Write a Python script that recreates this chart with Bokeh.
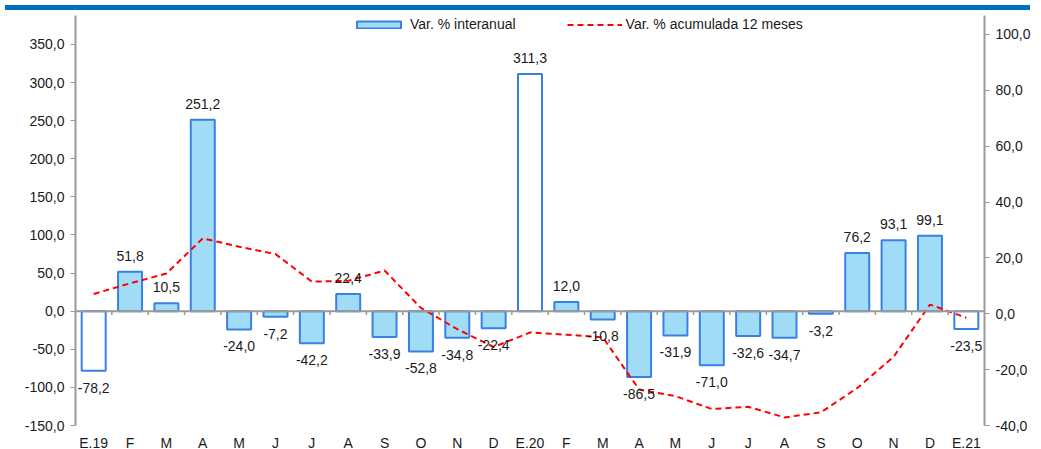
import numpy as np
from bokeh.plotting import figure
from bokeh.models import (Range1d, LinearAxis, FixedTicker, ColumnDataSource, Span,
                          Legend, LegendItem, Div)
from bokeh.layouts import column
from bokeh.embed import file_html
from bokeh.resources import INLINE
from bokeh.core.properties import value

# ---- data ----
months = ["E.19", "F", "M", "A", "M", "J", "J", "A", "S", "O", "N", "D",
          "E.20", "F", "M", "A", "M", "J", "J", "A", "S", "O", "N", "D", "E.21"]
interanual = [-78.2, 51.8, 10.5, 251.2, -24.0, -7.2, -42.2, 22.4, -33.9, -52.8, -34.8, -22.4,
              311.3, 12.0, -10.8, -86.5, -31.9, -71.0, -32.6, -34.7, -3.2, 76.2, 93.1, 99.1, -23.5]
acumulada = [7.1, 10.9, 14.4, 27.0, 24.0, 21.4, 11.5, 11.8, 15.5, 2.1, -5.5, -11.9,
             -6.7, -7.5, -8.4, -27.1, -29.5, -34.1, -33.3, -37.1, -35.3, -26.6, -15.4, 3.3, -1.4]
left_ticks = [-150, -100, -50, 0, 50, 100, 150, 200, 250, 300, 350]
right_ticks = [-40, -20, 0, 20, 40, 60, 80, 100]

FONT = "Liberation Sans"
FS = "14px"
GREY = "#9a9a9a"
BAR_FILL = "#a0dcf5"
BAR_LINE = "#3a80e4"

def fmt(v):
    return f"{v:.1f}".replace(".", ",")

idx = list(range(len(months)))
fills = ["white" if m.startswith("E.") else BAR_FILL for m in months]
src = ColumnDataSource(dict(x=idx, y=interanual, fill=fills, acc=acumulada,
                            lab=[fmt(v) for v in interanual]))
pos = [i for i, v in enumerate(interanual) if v >= 0]
neg = [i for i, v in enumerate(interanual) if v < 0]
src_pos = ColumnDataSource(dict(x=pos, y=[interanual[i] for i in pos],
                                lab=[fmt(interanual[i]) for i in pos]))
src_neg = ColumnDataSource(dict(x=neg, y=[interanual[i] for i in neg],
                                lab=[fmt(interanual[i]) for i in neg]))

p = figure(frame_width=909, frame_height=410, output_backend="svg", toolbar_location=None,
           x_range=Range1d(-0.5, len(months) - 0.5), y_range=Range1d(-150, 388),
           min_border_left=75, min_border_right=41, min_border_top=0, min_border_bottom=18)
p.extra_y_ranges = {"right": Range1d(-40, 106.8)}
p.xgrid.visible = False
p.ygrid.visible = False
p.outline_line_color = None
p.background_fill_color = "white"
p.border_fill_color = "white"

bars = p.vbar(x="x", top="y", bottom=0, width=0.66, source=src, fill_color="fill",
              line_color=BAR_LINE, line_width=2)

# zero line with category-boundary ticks
p.add_layout(Span(location=0, dimension="width", line_color=GREY, line_width=2))
bounds = [i + 0.5 for i in idx[:-1]]
p.segment(x0=bounds, y0=[0] * len(bounds), x1=bounds, y1=[-5] * len(bounds),
          line_color=GREY, line_width=1.5)

line = p.line(x="x", y="acc", source=src, y_range_name="right", line_color="#ff0000",
              line_width=2, line_dash="6 4")

p.text(x="x", y="y", text="lab", source=src_pos, text_font=value(FONT),
       text_font_size=FS, text_align="center", text_baseline="middle", y_offset=-16,
       text_color="#1a1a1a")
p.text(x="x", y="y", text="lab", source=src_neg, text_font=value(FONT),
       text_font_size=FS, text_align="center", text_baseline="middle", y_offset=17,
       text_color="#1a1a1a")

# bottom axis: labels only
xa = p.xaxis[0]
xa.ticker = FixedTicker(ticks=idx)
xa.major_label_overrides = {i: m for i, m in zip(idx, months)}
xa.axis_line_color = None
xa.major_tick_line_color = None
xa.minor_tick_line_color = None
xa.major_label_standoff = 3
xa.major_label_text_font = FONT
xa.major_label_text_font_size = FS
xa.major_label_text_color = "#1a1a1a"

# left axis
ya = p.yaxis[0]
ya.ticker = FixedTicker(ticks=left_ticks)
ya.major_label_overrides = {t: fmt(t) for t in left_ticks}

ra = LinearAxis(y_range_name="right", ticker=FixedTicker(ticks=right_ticks),
                major_label_overrides={t: fmt(t) for t in right_ticks})
p.add_layout(ra, "right")

for ax in [ya, ra]:
    ax.axis_line_color = GREY
    ax.axis_line_width = 2
    ax.major_tick_line_color = GREY
    ax.major_tick_in = 0
    ax.major_tick_out = 5
    ax.minor_tick_line_color = None
    ax.major_label_standoff = 6
    ax.major_label_text_font = FONT
    ax.major_label_text_font_size = FS
    ax.major_label_text_color = "#1a1a1a"

legend = Legend(items=[LegendItem(label="Var. % interanual", renderers=[bars], index=1),
                       LegendItem(label="Var. % acumulada 12 meses", renderers=[line])],
                location=(276, 393), orientation="horizontal", glyph_width=55, glyph_height=9,
                label_standoff=4, spacing=51, padding=2, margin=0, label_height=16,
                border_line_color=None, background_fill_alpha=0,
                label_text_font=FONT, label_text_font_size=FS, label_text_color="#1a1a1a")
p.add_layout(legend, "center")

band = Div(text="", width=1025, height=5,
           styles={"background-color": "#0070c0", "width": "1025px", "height": "5px"})
layout = column(band, p, spacing=0)

open("out.html", "w").write(file_html(layout, INLINE))
